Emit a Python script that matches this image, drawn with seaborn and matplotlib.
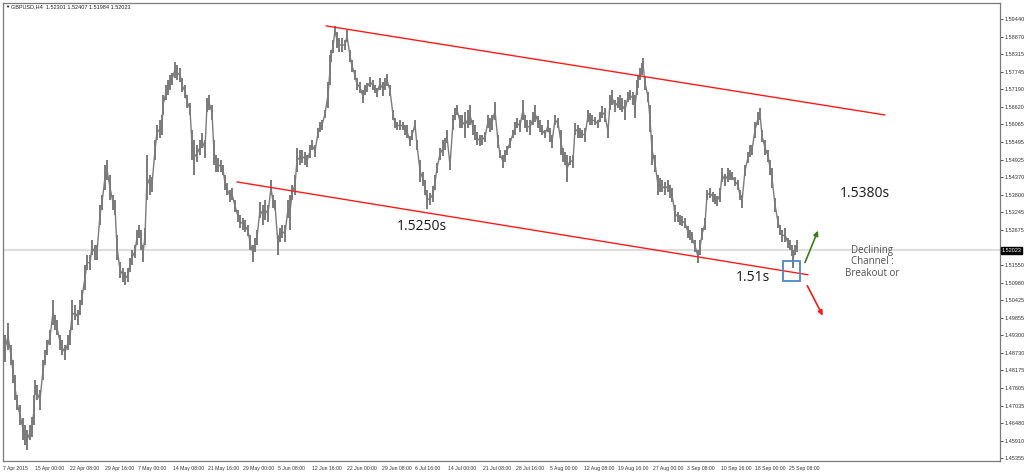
import numpy as np
import pandas as pd
import matplotlib.pyplot as plt
import matplotlib.transforms as mtransforms
from matplotlib.patches import Rectangle
import seaborn as sns

# GBPUSD H4 price path, sampled along the chart (x = bar number)
bar_x = [3, 5, 8, 11, 13, 15, 17, 20, 23, 25, 27, 30, 32, 34, 35, 37, 40, 43, 45, 47,
         50, 53, 55, 57, 60, 62, 65, 68, 70, 72, 75, 78, 80, 82, 85, 87, 90, 92, 95, 97,
         100, 102, 105, 107, 110, 113, 115, 117, 120, 123, 125, 128, 130, 132, 135, 137, 139, 141, 143, 145,
         147, 150, 152, 155, 157, 160, 162, 163, 166, 168, 170, 172, 175, 177, 180, 182, 185, 187, 190, 192,
         194, 197, 200, 202, 205, 207, 209, 212, 214, 216, 218, 221, 223, 225, 227, 230, 232, 235, 238, 240,
         243, 245, 248, 250, 253, 255, 257, 260, 263, 265, 268, 271, 273, 275, 278, 280, 282, 285, 288, 290,
         292, 295, 297, 300, 302, 305, 307, 310, 312, 315, 318, 320, 322, 325, 328, 330, 331, 333, 335, 337,
         339, 342, 345, 347, 350, 352, 355, 357, 360, 363, 365, 367, 370, 373, 375, 377, 380, 383, 385, 387,
         390, 393, 395, 397, 400, 403, 405, 407, 410, 412, 415, 417, 420, 423, 425, 427, 430, 433, 435, 437,
         440, 443, 445, 447, 450, 453, 455, 457, 460, 462, 465, 468, 470, 473, 475, 477, 480, 482, 485, 488,
         490, 492, 495, 498, 500, 503, 505, 507, 510, 513, 515, 517, 520, 523, 525, 527, 530, 533, 535, 538,
         540, 542, 545, 548, 550, 552, 555, 558, 561, 563, 565, 567, 570, 573, 575, 578, 580, 582, 585, 588,
         590, 592, 595, 598, 600, 602, 605, 608, 610, 612, 615, 618, 620, 622, 625, 628, 630, 633, 635, 637,
         638, 640, 642, 643, 645, 648, 650, 652, 655, 658, 660, 662, 665, 668, 670, 672, 675, 678, 680, 682,
         685, 688, 690, 692, 695, 698, 700, 702, 705, 707, 710, 713, 715, 717, 720, 722, 725, 728, 730, 732,
         735, 738, 740, 742, 745, 748, 750, 752, 755, 758, 760, 762, 765, 768, 770, 772, 775, 778, 780, 782,
         785, 788, 790, 792, 793, 795, 797]

bar_high = [1.4915, 1.4931, 1.4969, 1.4899, 1.4850, 1.4802, 1.4738, 1.4706, 1.4664, 1.4642, 1.4626, 1.4642, 1.4667, 1.4738, 1.4786, 1.4770, 1.4754, 1.4850, 1.4883, 1.4915,
            1.4947, 1.5043, 1.4995, 1.4979, 1.4931, 1.4915, 1.4899, 1.4931, 1.4947, 1.5043, 1.5027, 1.5011, 1.5043, 1.5075, 1.5155, 1.5187, 1.5187, 1.5236, 1.5220, 1.5220,
            1.5348, 1.5380, 1.5476, 1.5492, 1.5444, 1.5380, 1.5364, 1.5252, 1.5165, 1.5146, 1.5133, 1.5146, 1.5178, 1.5204, 1.5220, 1.5268, 1.5284, 1.5268, 1.5220, 1.5274,
            1.5508, 1.5444, 1.5438, 1.5557, 1.5605, 1.5621, 1.5637, 1.5701, 1.5733, 1.5749, 1.5765, 1.5772, 1.5807, 1.5797, 1.5788, 1.5756, 1.5733, 1.5701, 1.5675, 1.5589,
            1.5557, 1.5541, 1.5557, 1.5579, 1.5557, 1.5691, 1.5701, 1.5669, 1.5557, 1.5508, 1.5499, 1.5492, 1.5476, 1.5444, 1.5419, 1.5396, 1.5403, 1.5364, 1.5332, 1.5316,
            1.5306, 1.5300, 1.5284, 1.5252, 1.5220, 1.5242, 1.5268, 1.5358, 1.5348, 1.5364, 1.5348, 1.5428, 1.5380, 1.5364, 1.5252, 1.5274, 1.5284, 1.5284, 1.5364, 1.5380,
            1.5412, 1.5444, 1.5531, 1.5525, 1.5525, 1.5518, 1.5508, 1.5541, 1.5557, 1.5541, 1.5595, 1.5614, 1.5621, 1.5653, 1.5743, 1.5829, 1.5845, 1.5878, 1.5923, 1.5903,
            1.5884, 1.5884, 1.5878, 1.5910, 1.5845, 1.5813, 1.5781, 1.5756, 1.5743, 1.5717, 1.5733, 1.5740, 1.5759, 1.5749, 1.5733, 1.5724, 1.5756, 1.5743, 1.5756, 1.5768,
            1.5733, 1.5653, 1.5627, 1.5614, 1.5621, 1.5614, 1.5605, 1.5605, 1.5569, 1.5589, 1.5621, 1.5557, 1.5492, 1.5454, 1.5428, 1.5396, 1.5387, 1.5409, 1.5444, 1.5483,
            1.5531, 1.5557, 1.5563, 1.5589, 1.5492, 1.5637, 1.5659, 1.5669, 1.5637, 1.5637, 1.5646, 1.5653, 1.5669, 1.5621, 1.5605, 1.5582, 1.5573, 1.5573, 1.5582, 1.5637,
            1.5627, 1.5637, 1.5679, 1.5573, 1.5525, 1.5508, 1.5525, 1.5537, 1.5563, 1.5589, 1.5614, 1.5627, 1.5621, 1.5685, 1.5637, 1.5621, 1.5621, 1.5646, 1.5669, 1.5634,
            1.5621, 1.5605, 1.5589, 1.5621, 1.5595, 1.5573, 1.5637, 1.5627, 1.5589, 1.5531, 1.5518, 1.5508, 1.5505, 1.5508, 1.5611, 1.5605, 1.5595, 1.5589, 1.5595, 1.5653,
            1.5643, 1.5637, 1.5630, 1.5621, 1.5646, 1.5666, 1.5659, 1.5605, 1.5701, 1.5717, 1.5685, 1.5695, 1.5701, 1.5691, 1.5685, 1.5711, 1.5717, 1.5711, 1.5701, 1.5749,
            1.5765, 1.5788, 1.5804, 1.5820, 1.5762, 1.5711, 1.5669, 1.5573, 1.5508, 1.5444, 1.5435, 1.5428, 1.5422, 1.5428, 1.5412, 1.5403, 1.5348, 1.5326, 1.5316, 1.5313,
            1.5306, 1.5281, 1.5268, 1.5261, 1.5236, 1.5204, 1.5236, 1.5274, 1.5306, 1.5396, 1.5403, 1.5390, 1.5383, 1.5377, 1.5403, 1.5467, 1.5447, 1.5467, 1.5460, 1.5454,
            1.5438, 1.5428, 1.5396, 1.5380, 1.5476, 1.5518, 1.5541, 1.5541, 1.5614, 1.5646, 1.5659, 1.5589, 1.5557, 1.5525, 1.5492, 1.5467, 1.5370, 1.5313, 1.5284, 1.5268,
            1.5274, 1.5242, 1.5236, 1.5220, 1.5204, 1.5220, 1.5236]

bar_low = [1.4825, 1.4844, 1.4883, 1.4835, 1.4777, 1.4722, 1.4690, 1.4642, 1.4594, 1.4578, 1.4562, 1.4594, 1.4603, 1.4642, 1.4738, 1.4722, 1.4690, 1.4786, 1.4835, 1.4867,
           1.4899, 1.4963, 1.4947, 1.4931, 1.4883, 1.4867, 1.4850, 1.4883, 1.4899, 1.4947, 1.4979, 1.4963, 1.4995, 1.5027, 1.5075, 1.5139, 1.5139, 1.5187, 1.5171, 1.5171,
           1.5284, 1.5332, 1.5396, 1.5428, 1.5364, 1.5332, 1.5316, 1.5171, 1.5114, 1.5101, 1.5091, 1.5101, 1.5133, 1.5155, 1.5178, 1.5220, 1.5242, 1.5204, 1.5165, 1.5220,
           1.5364, 1.5380, 1.5390, 1.5492, 1.5557, 1.5563, 1.5573, 1.5637, 1.5685, 1.5701, 1.5717, 1.5733, 1.5756, 1.5749, 1.5743, 1.5711, 1.5691, 1.5659, 1.5637, 1.5492,
           1.5444, 1.5486, 1.5508, 1.5531, 1.5499, 1.5646, 1.5653, 1.5621, 1.5476, 1.5454, 1.5454, 1.5454, 1.5444, 1.5396, 1.5380, 1.5358, 1.5364, 1.5326, 1.5293, 1.5274,
           1.5268, 1.5261, 1.5248, 1.5204, 1.5165, 1.5197, 1.5220, 1.5306, 1.5284, 1.5300, 1.5293, 1.5380, 1.5338, 1.5332, 1.5187, 1.5229, 1.5242, 1.5229, 1.5306, 1.5268,
           1.5364, 1.5380, 1.5454, 1.5476, 1.5483, 1.5476, 1.5470, 1.5499, 1.5525, 1.5502, 1.5563, 1.5582, 1.5589, 1.5627, 1.5659, 1.5733, 1.5807, 1.5836, 1.5894, 1.5852,
           1.5839, 1.5839, 1.5845, 1.5871, 1.5807, 1.5775, 1.5749, 1.5717, 1.5708, 1.5675, 1.5701, 1.5711, 1.5727, 1.5717, 1.5708, 1.5695, 1.5717, 1.5698, 1.5717, 1.5730,
           1.5698, 1.5621, 1.5595, 1.5589, 1.5589, 1.5589, 1.5573, 1.5563, 1.5537, 1.5557, 1.5589, 1.5525, 1.5422, 1.5409, 1.5380, 1.5335, 1.5348, 1.5358, 1.5396, 1.5451,
           1.5492, 1.5505, 1.5525, 1.5547, 1.5460, 1.5589, 1.5621, 1.5637, 1.5595, 1.5595, 1.5563, 1.5595, 1.5605, 1.5573, 1.5557, 1.5541, 1.5537, 1.5541, 1.5550, 1.5595,
           1.5582, 1.5589, 1.5621, 1.5531, 1.5499, 1.5467, 1.5486, 1.5508, 1.5531, 1.5563, 1.5573, 1.5595, 1.5582, 1.5621, 1.5595, 1.5582, 1.5573, 1.5605, 1.5614, 1.5595,
           1.5582, 1.5573, 1.5563, 1.5582, 1.5550, 1.5531, 1.5605, 1.5595, 1.5508, 1.5486, 1.5476, 1.5422, 1.5476, 1.5467, 1.5573, 1.5563, 1.5563, 1.5563, 1.5550, 1.5614,
           1.5605, 1.5605, 1.5605, 1.5595, 1.5614, 1.5627, 1.5614, 1.5563, 1.5653, 1.5669, 1.5646, 1.5659, 1.5653, 1.5646, 1.5621, 1.5679, 1.5685, 1.5669, 1.5627, 1.5701,
           1.5724, 1.5749, 1.5765, 1.5781, 1.5717, 1.5679, 1.5582, 1.5476, 1.5454, 1.5380, 1.5390, 1.5390, 1.5380, 1.5390, 1.5370, 1.5358, 1.5293, 1.5293, 1.5284, 1.5281,
           1.5274, 1.5242, 1.5236, 1.5226, 1.5197, 1.5162, 1.5187, 1.5236, 1.5268, 1.5364, 1.5370, 1.5358, 1.5351, 1.5345, 1.5358, 1.5422, 1.5409, 1.5422, 1.5428, 1.5428,
           1.5409, 1.5396, 1.5364, 1.5338, 1.5441, 1.5483, 1.5502, 1.5508, 1.5563, 1.5605, 1.5621, 1.5550, 1.5508, 1.5486, 1.5444, 1.5403, 1.5326, 1.5274, 1.5252, 1.5229,
           1.5229, 1.5210, 1.5204, 1.5184, 1.5146, 1.5187, 1.5197]

# channel lines drawn on the chart (bar, price)
upper_x = [326, 885]
upper_y = [1.5923, 1.5637]
lower_x = [237, 808]
lower_y = [1.5422, 1.5124]

current_price = 1.52023
title_text = "GBPUSD,H4  1.52301 1.52407 1.51984 1.52023"

price_ticks = [1.59440, 1.58870, 1.58315, 1.57745, 1.57190, 1.56620, 1.56065, 1.55495,
               1.54925, 1.54370, 1.53800, 1.53245, 1.52675, 1.51550, 1.50980, 1.50425,
               1.49855, 1.49300, 1.48730, 1.48175, 1.47605, 1.47035, 1.46480, 1.45910, 1.45355]

date_pos = [3, 35, 70, 105, 138, 173, 208, 243, 278, 312, 347, 382, 415, 448, 483,
            516, 550, 584, 618, 653, 687, 721, 755, 789]
date_labels = ["7 Apr 2015", "15 Apr 00:00", "22 Apr 08:00", "29 Apr 16:00", "7 May 00:00",
               "14 May 08:00", "21 May 16:00", "29 May 00:00", "5 Jun 08:00", "12 Jun 16:00",
               "22 Jun 00:00", "29 Jun 08:00", "6 Jul 16:00", "14 Jul 00:00", "21 Jul 08:00",
               "28 Jul 16:00", "5 Aug 00:00", "12 Aug 08:00", "19 Aug 16:00", "27 Aug 00:00",
               "3 Sep 08:00", "10 Sep 16:00", "18 Sep 00:00", "25 Sep 08:00"]

df = pd.DataFrame({'bar': bar_x, 'high': bar_high, 'low': bar_low})
df['mid'] = (df['high'] + df['low']) / 2

sns.set_style("white")
plt.rcParams['font.family'] = ['Liberation Sans', 'DejaVu Sans']

fig = plt.figure(figsize=(10.24, 4.73), dpi=100)
ax = fig.add_axes([2.5 / 1024, 12 / 473, 997.5 / 1024, 458 / 473])

gray = '#7b7b7b'
ax.vlines(df['bar'], df['low'], df['high'], color=gray, lw=1.4)
sns.lineplot(data=df, x='bar', y='mid', color=gray, lw=1.0, ax=ax)

# current price line
ax.axhline(current_price, color='#dedede', lw=1.5, zorder=0)

# channel
ax.plot(upper_x, upper_y, color='#ff1a1a', lw=1.0)
ax.plot(lower_x, lower_y, color='#ff1a1a', lw=1.0)

# breakout box and arrows
ax.add_patch(Rectangle((783, 1.5104), 17, 0.0064, fill=False, ec='#4f86c6', lw=1.3, zorder=5))
ax.annotate('', xy=(819, 1.5274), xytext=(804, 1.5155),
            arrowprops=dict(arrowstyle='-|>', color='#3d7a1f', lw=1.2, mutation_scale=7))
ax.annotate('', xy=(824, 1.4985), xytext=(806, 1.5097),
            arrowprops=dict(arrowstyle='-|>', color='#ee1c1c', lw=1.2, mutation_scale=7))

ax.text(422, 1.5280, '1.5250s', fontsize=10, family=['Open Sans', 'DejaVu Sans'],
        color='#1a1a1a', ha='center', va='center')
ax.text(865, 1.5386, '1.5380s', fontsize=10, family=['Open Sans', 'DejaVu Sans'],
        color='#1a1a1a', ha='center', va='center')
ax.text(753, 1.5116, '1.51s', fontsize=10, family=['Open Sans', 'DejaVu Sans'],
        color='#1a1a1a', ha='center', va='center')
ax.text(872, 1.5165, 'Declining\nChannel :\nBreakout or', fontsize=7,
        family=['Open Sans', 'DejaVu Sans'], color='#505050', ha='center', va='center',
        linespacing=1.1)

ax.set_xlim(2.5, 1000)
ax.set_ylim(1.45262, 1.59964)

ax.yaxis.tick_right()
ax.set_yticks(price_ticks)
ax.set_yticklabels([f'{t:.5f}' for t in price_ticks])
ax.set_xticks(date_pos)
ax.set_xticklabels(date_labels, ha='left')
ax.tick_params(axis='y', direction='out', length=2.5, width=0.6, colors='#333333',
               labelsize=4, pad=1)
ax.tick_params(axis='x', direction='out', length=2.5, width=0.6, colors='#333333',
               labelsize=3.7, pad=1)
ax.set_xlabel('')
ax.set_ylabel('')

for s in ax.spines.values():
    s.set_color('#7a7a7a')
    s.set_linewidth(0.9)

# current price flag on the price scale
trans = mtransforms.blended_transform_factory(ax.transAxes, ax.transData)
ax.text(1.0015, current_price, '1.52023', transform=trans, fontsize=4, color='white',
        va='center', ha='left',
        bbox=dict(boxstyle='square,pad=0.15', fc='black', ec='black'))

fig.text(5 / 1024, 1 - 6.5 / 473, '\u25bc', fontsize=3, color='black', va='center')
fig.text(11 / 1024, 1 - 6.5 / 473, title_text, fontsize=4, color='#222222', va='center')

fig.savefig('out.png', dpi=100)
